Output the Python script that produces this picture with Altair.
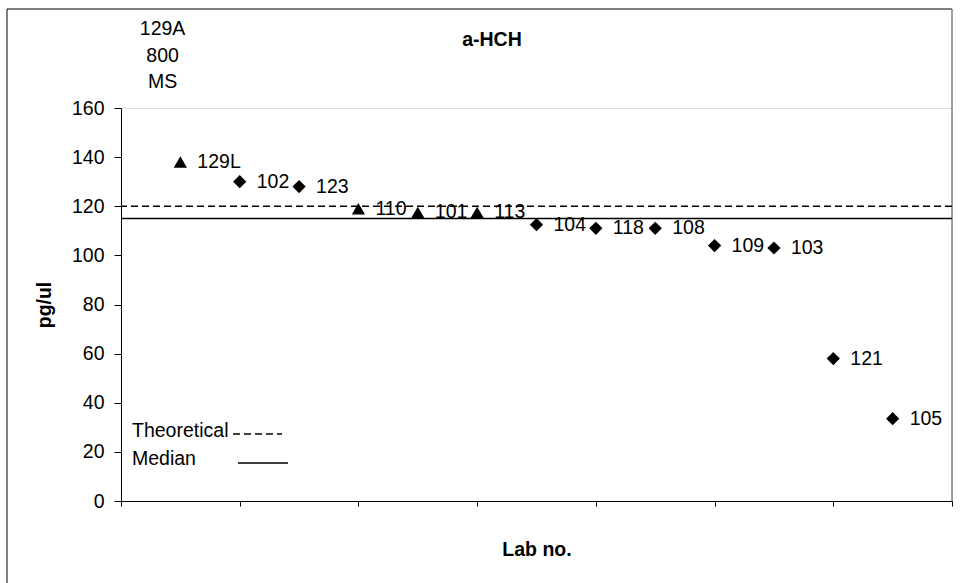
import altair as alt
import pandas as pd

# ---- data ----
labs = ["129L", "102", "123", "110", "101", "113", "104", "118", "108", "109", "103", "121", "105"]
positions = [1, 2, 3, 4, 5, 6, 7, 8, 9, 10, 11, 12, 13]
values = [138, 130, 128, 119, 117.5, 117.5, 112.5, 111, 111, 104, 103, 58, 33.5]
marker_group = ["triangle", "diamond", "diamond", "triangle", "triangle", "triangle",
                "diamond", "diamond", "diamond", "diamond", "diamond", "diamond", "diamond"]

theoretical_value = [120]
median_value = [115]

offscale_lab = ["129A"]
offscale_value = [800]
offscale_method = ["MS"]
offscale_pos = [0.7]

legend_labels = ["Theoretical", "Median"]
chart_title = ["a-HCH"]

FONT = "Liberation Sans"
FS = 19.5
W, H = 831, 393

df = pd.DataFrame({"lab": labs, "pos": positions, "value": values, "group": marker_group})
ref_df = pd.DataFrame({"value": theoretical_value + median_value,
                       "kind": legend_labels})
off_df = pd.DataFrame({"pos": offscale_pos,
                       "txt": [f"{l}\n{v}\n{m}" for l, v, m in zip(offscale_lab, offscale_value, offscale_method)]})

xscale = alt.Scale(domain=[0, 14], nice=False, zero=False)
yscale = alt.Scale(domain=[0, 160], nice=False)

xaxis = alt.Axis(values=[0, 2, 4, 6, 8, 10, 12, 14], labels=False, grid=False,
                 tickSize=5, tickColor="black", domainColor="black",
                 title="Lab no.", titleFont=FONT, titleFontSize=FS, titleFontWeight="bold",
                 titleColor="black", titlePadding=34)
yaxis = alt.Axis(values=list(range(0, 161, 20)), grid=False, tickSize=7,
                 tickColor="black", domainColor="black",
                 labelFont=FONT, labelFontSize=FS, labelColor="black", labelPadding=10,
                 title="pg/ul", titleFont=FONT, titleFontSize=FS, titleFontWeight="bold",
                 titleColor="black", titlePadding=17)

points = alt.Chart(df).mark_point(filled=True, opacity=1, color="black", size=175).encode(
    x=alt.X("pos:Q", scale=xscale, axis=xaxis),
    y=alt.Y("value:Q", scale=yscale, axis=yaxis),
    shape=alt.Shape("group:N", scale=alt.Scale(domain=["triangle", "diamond"],
                                               range=["triangle-up", "diamond"]), legend=None),
)

point_labels = alt.Chart(df).mark_text(align="left", baseline="middle", dx=17,
                                       font=FONT, fontSize=FS, color="black").encode(
    x=alt.X("pos:Q", scale=xscale),
    y=alt.Y("value:Q", scale=yscale),
    text="lab:N",
)

ref_lines = alt.Chart(ref_df).mark_rule(color="black", strokeWidth=1.6).encode(
    y=alt.Y("value:Q", scale=yscale),
    strokeDash=alt.StrokeDash("kind:N", scale=alt.Scale(domain=legend_labels,
                                                         range=[[7, 4], [1, 0]]), legend=None),
)

off_text = alt.Chart(off_df).mark_text(align="center", baseline="middle", lineBreak="\n",
                                       lineHeight=26.5, font=FONT, fontSize=FS, color="black",
                                       clip=False).encode(
    x=alt.X("pos:Q", scale=xscale),
    y=alt.value(-79),
    text="txt:N",
)

title_text = alt.Chart(pd.DataFrame({"t": chart_title})).mark_text(
    align="center", baseline="middle", font=FONT, fontSize=FS, fontWeight="bold",
    color="black", clip=False).encode(
    x=alt.value(371), y=alt.value(-68), text="t:N")

# custom legend (labels left of line samples, inside the plot area)
leg_text_theo = alt.Chart(pd.DataFrame({"t": [legend_labels[0]]})).mark_text(
    align="left", baseline="alphabetic", font=FONT, fontSize=FS, color="black").encode(
    x=alt.value(11), y=alt.value(329), text="t:N")
leg_text_med = alt.Chart(pd.DataFrame({"t": [legend_labels[1]]})).mark_text(
    align="left", baseline="alphabetic", font=FONT, fontSize=FS, color="black").encode(
    x=alt.value(11), y=alt.value(357), text="t:N")
leg_line_theo = alt.Chart(pd.DataFrame({"t": [legend_labels[0]]})).mark_rule(
    color="black", strokeWidth=1.6, strokeDash=[7, 4]).encode(
    x=alt.value(112), x2=alt.value(161), y=alt.value(326))
leg_line_med = alt.Chart(pd.DataFrame({"t": [legend_labels[1]]})).mark_rule(
    color="black", strokeWidth=1.6).encode(
    x=alt.value(117), x2=alt.value(167), y=alt.value(355))

# outer frame of the original chart area
frame_left = alt.Chart(pd.DataFrame({"a": [0]})).mark_rule(color="black", strokeWidth=1, clip=False).encode(
    x=alt.value(-114), y=alt.value(-99), y2=alt.value(480))
frame_top = alt.Chart(pd.DataFrame({"a": [0]})).mark_rule(color="black", strokeWidth=1, clip=False).encode(
    x=alt.value(-114), x2=alt.value(W), y=alt.value(-99))
frame_right = alt.Chart(pd.DataFrame({"a": [0]})).mark_rule(color="#808080", strokeWidth=1.5, clip=False).encode(
    x=alt.value(W), y=alt.value(-99), y2=alt.value(H))

chart = alt.layer(
    frame_left, frame_top, frame_right,
    ref_lines, points, point_labels, off_text, title_text,
    leg_text_theo, leg_text_med, leg_line_theo, leg_line_med,
).properties(
    width=W, height=H,
    autosize=alt.AutoSizeParams(type="none"),
    padding={"left": 121, "top": 108, "right": 12, "bottom": 82},
).configure_view(stroke="#808080", strokeWidth=1.5).configure(background="white")

chart.save("out.html", embed_options={"renderer": "svg", "actions": False})
